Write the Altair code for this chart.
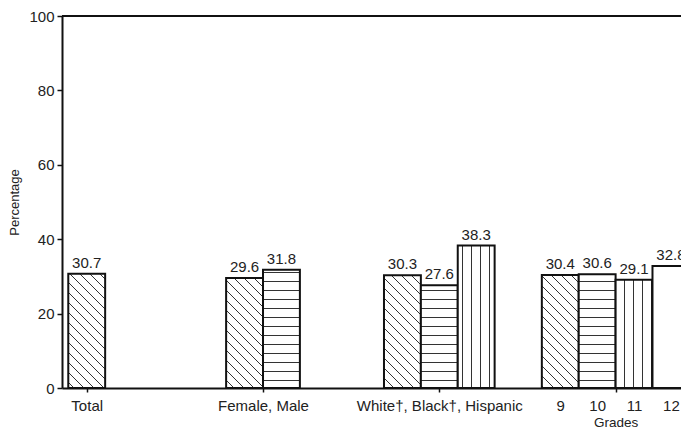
import json
import altair as alt
import pandas as pd
import jinja2

# ---- data -------------------------------------------------------------
groups = ["Total", "Female, Male", "White\u2020, Black\u2020, Hispanic", "Grades"]
members = [["Total"], ["Female", "Male"], ["White", "Black", "Hispanic"], ["9", "10", "11", "12"]]
values = [[30.7], [29.6, 31.8], [30.3, 27.6, 38.3], [30.4, 30.6, 29.1, 32.8]]
member_labels_on_axis = [False, False, False, True]
y_ticks = [0, 20, 40, 60, 80, 100]

# ---- layout constants (slot units: one bar = 1) ------------------------
SLOTS = 4
GAP = 0.28
STEP = SLOTS + GAP
X_DOMAIN = [-0.17, 16.83]
W, H = 627, 372

rows = []
for g, (grp, mems, vals) in enumerate(zip(groups, members, values)):
    for m, (name, v) in enumerate(zip(mems, vals)):
        x0 = round(g * STEP + m, 4)
        rows.append({"group": grp, "member": name, "kind": m, "value": v,
                     "x0": x0, "x1": round(x0 + 1, 4), "xc": round(x0 + 0.5, 4)})
df = pd.DataFrame(rows)

# axis ticks / labels
tick_vals, tick_labels, center_vals = [], [], []
title_group = None
for g, (grp, mems) in enumerate(zip(groups, members)):
    c = round(g * STEP + len(mems) / 2, 4)
    center_vals.append(c)
    tick_vals.append(c)
    if member_labels_on_axis[g]:
        tick_labels.append("")
        title_group = (grp, c)
        for m, name in enumerate(mems):
            tick_vals.append(round(g * STEP + m + 0.5, 4))
            tick_labels.append(name)
    else:
        tick_labels.append(grp)

label_expr = "%s[indexof(%s, datum.value)]" % (
    json.dumps(tick_labels, ensure_ascii=False), json.dumps(tick_vals))
tick_test = "indexof(%s, datum.value) >= 0" % json.dumps(center_vals)
title_x = (title_group[1] - X_DOMAIN[0]) / (X_DOMAIN[1] - X_DOMAIN[0]) * W

PATTERNS = ["url(#hatch-diag)", "url(#hatch-horiz)", "url(#hatch-vert)", "white"]
FONT = "Liberation Sans"
TXT = "#222"
FS = 15

xscale = alt.Scale(domain=X_DOMAIN, nice=False, zero=False)
yscale = alt.Scale(domain=[0, 100], nice=False)

bars = alt.Chart(df).mark_rect(stroke="#111", strokeWidth=2).encode(
    x=alt.X("x0:Q", scale=xscale, title=title_group[0],
            axis=alt.Axis(values=tick_vals, labelExpr=label_expr, grid=False,
                          domainColor="#111", domainWidth=2,
                          tickColor="#111", tickWidth=1.5, tickSize=4,
                          tickOpacity={"condition": {"test": tick_test, "value": 1}, "value": 0},
                          labelOverlap=False, labelFlush=False, labelBound=False,
                          labelFont=FONT, labelFontSize=FS, labelColor=TXT,
                          labelPadding=6,
                          titleFont=FONT, titleFontSize=13.5, titleFontWeight="normal",
                          titleColor=TXT, titleX=title_x, titleY=38,
                          titleAlign="center", titleBaseline="alphabetic")),
    x2="x1:Q",
    y=alt.Y("value:Q", scale=yscale, title="Percentage",
            axis=alt.Axis(values=y_ticks, grid=False, domainColor="#111", domainWidth=2,
                          tickColor="#111", tickWidth=1.5, tickSize=5,
                          labelFont=FONT, labelFontSize=FS, labelColor=TXT, labelPadding=3,
                          titleFont=FONT, titleFontSize=13, titleFontWeight="normal",
                          titleColor=TXT, titlePadding=7)),
    y2=alt.datum(0),
    fill=alt.Fill("kind:N", scale=alt.Scale(domain=[0, 1, 2, 3], range=PATTERNS), legend=None),
)

labels = alt.Chart(df).mark_text(baseline="alphabetic", dy=-6, font=FONT, fontSize=FS, color=TXT).encode(
    x=alt.X("xc:Q", scale=xscale),
    y=alt.Y("value:Q", scale=yscale),
    text=alt.Text("value:Q", format=".1f"),
)

top_line = alt.Chart(pd.DataFrame({"k": [0]})).mark_rule(color="#111", strokeWidth=2).encode(
    y=alt.datum(100),
)

chart = alt.layer(bars, labels, top_line).properties(
    width=W, height=H,
    autosize=alt.AutoSizeParams(type="none"),
    padding={"left": 54, "top": 8, "right": 0, "bottom": 40},
    background="white",
).configure_view(stroke=None)

TEMPLATE = jinja2.Template("""<!DOCTYPE html>
<html>
<head>
  <meta charset="utf-8">
  <style>
    #{{ output_div }}.vega-embed { width: 100%; display: flex; }
    #{{ output_div }}.vega-embed > * { flex-shrink: 0; }
    #{{ output_div }}.vega-embed svg { flex-shrink: 0; }
    #{{ output_div }}.vega-embed details,
    #{{ output_div }}.vega-embed details summary { position: relative; }
  </style>
  <script type="text/javascript" src="{{ base_url }}/vega@{{ vega_version }}"></script>
  <script type="text/javascript" src="{{ base_url }}/vega-lite@{{ vegalite_version }}"></script>
  <script type="text/javascript" src="{{ base_url }}/vega-embed@{{ vegaembed_version }}"></script>
</head>
<body>
  <svg width="0" height="0" style="position:absolute;left:0;top:0" aria-hidden="true">
    <defs>
      <pattern id="hatch-diag" patternUnits="userSpaceOnUse" width="10" height="10">
        <rect width="10" height="10" fill="white"/>
        <path d="M-1,-1 L11,11 M-1,9 L1,11 M9,-1 L11,1" stroke="#333" stroke-width="1"/>
      </pattern>
      <pattern id="hatch-horiz" patternUnits="userSpaceOnUse" width="9" height="9">
        <rect width="9" height="9" fill="white"/>
        <path d="M0,4.5 L9,4.5" stroke="#333" stroke-width="1"/>
      </pattern>
      <pattern id="hatch-vert" patternUnits="userSpaceOnUse" width="9" height="9">
        <rect width="9" height="9" fill="white"/>
        <path d="M4.5,0 L4.5,9" stroke="#333" stroke-width="1"/>
      </pattern>
    </defs>
  </svg>
  <div id="{{ output_div }}"></div>
  <script type="text/javascript">
    (function(vegaEmbed) {
      var spec = {{ spec }};
      var embedOpt = {{ embed_options }};
      function showError(el, error) {
        el.innerHTML = ('<div style="color:red;"><p>JavaScript Error: ' + error.message + '</p></div>');
        throw error;
      }
      const el = document.getElementById('{{ output_div }}');
      vegaEmbed("#{{ output_div }}", spec, embedOpt).catch(error => showError(el, error));
    })(vegaEmbed);
  </script>
</body>
</html>
""")

chart.save("out.html", embed_options={"renderer": "svg", "actions": False}, template=TEMPLATE)
